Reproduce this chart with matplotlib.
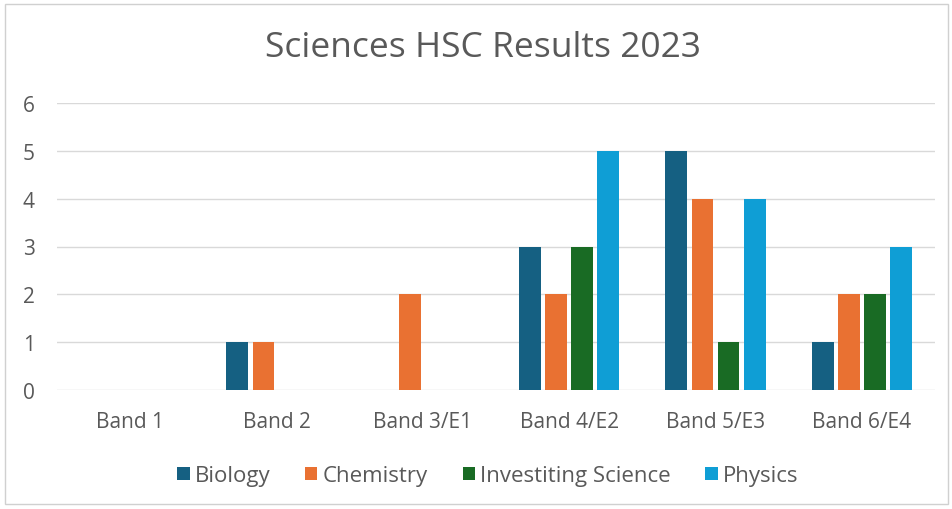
import matplotlib
matplotlib.use("Agg")
import matplotlib.pyplot as plt
import numpy as np
from matplotlib.patches import Rectangle, Patch

categories = ["Band 1", "Band 2", "Band 3/E1", "Band 4/E2", "Band 5/E3", "Band 6/E4"]
series_names = ["Biology", "Chemistry", "Investiting Science", "Physics"]
biology = [0, 1, 0, 3, 5, 1]
chemistry = [0, 1, 2, 2, 4, 2]
investiting = [0, 0, 0, 3, 1, 2]
physics = [0, 0, 0, 5, 4, 3]
colors = ["#156082", "#E97132", "#196B24", "#0F9ED5"]
yticks = [0, 1, 2, 3, 4, 5, 6]

plt.rcParams['font.family'] = ['Open Sans', 'DejaVu Sans']
W, H = 953, 510
fig = plt.figure(figsize=(W/100, H/100), dpi=100)
fig.patch.set_facecolor("white")
fig.add_artist(Rectangle((5/W, 5/H), 943/W, 500/H, transform=fig.transFigure,
                         fill=False, edgecolor="#D0D0D0", linewidth=1))

ax = fig.add_axes([57/W, (H-391)/H, 878/W, (391-104)/H])
x = np.arange(len(categories))
step = 0.178
width = 0.150
data = [biology, chemistry, investiting, physics]
for i, (vals, c) in enumerate(zip(data, colors)):
    ax.bar(x + (i - 1.5) * step, vals, width=width, color=c, zorder=3, linewidth=0)

ax.set_xlim(-0.5, len(categories) - 0.5)
ax.set_ylim(0, 6)
ax.set_yticks(yticks)
ax.set_xticks(x)
ax.set_xticklabels(categories)
ax.grid(axis="y", color="#D9D9D9", linewidth=1, zorder=0)
for s in ax.spines.values():
    s.set_visible(False)
ax.tick_params(axis="both", length=0, labelcolor="#595959", labelsize=15)
ax.tick_params(axis="y", pad=16)
ax.tick_params(axis="x", pad=15)

fig.text(483/W, 1 - 48/H, "Sciences HSC Results 2023", ha="center", va="center",
         fontsize=25.5, color="#595959")

handles = [Patch(facecolor=c, edgecolor="none") for c in colors]
fig.legend(handles, series_names, loc="center", bbox_to_anchor=(488/W, 1 - 477/H),
           ncol=4, frameon=False, fontsize=16, handlelength=0.55, handleheight=0.55,
           handletextpad=0.25, columnspacing=1.55, labelcolor="#595959")

fig.savefig("out.png", dpi=100)
